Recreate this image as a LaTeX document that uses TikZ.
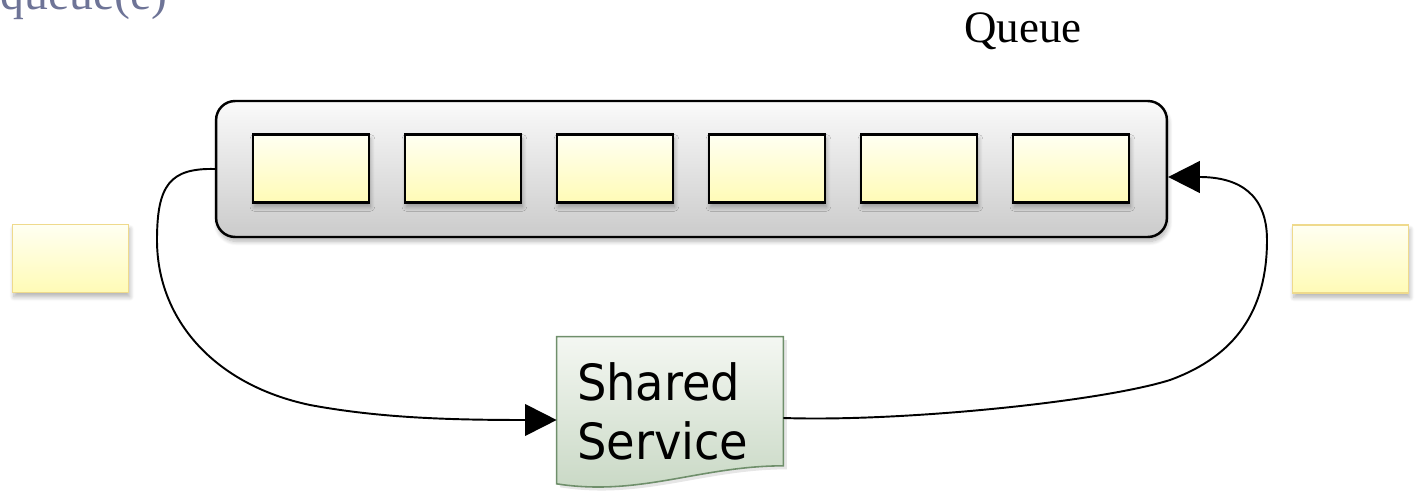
\documentclass[tikz,border=0pt]{standalone}
\usepackage{fontspec}
\setmainfont{Liberation Serif}
\newfontfamily\svcfont[FakeStretch=0.93]{DejaVu Sans}
\usetikzlibrary{arrows.meta,shadows,shadows.blur,calc,backgrounds}

\definecolor{enqgray}{HTML}{6E7497}
\definecolor{trayTop}{HTML}{FAFAFA}
\definecolor{trayBot}{HTML}{CBCBCB}
\definecolor{itemTop}{HTML}{FFFFF2}
\definecolor{itemBot}{HTML}{FFFBB6}
\definecolor{itemEdge}{HTML}{EFDA8C}
\definecolor{svcTop}{HTML}{F4F7F2}
\definecolor{svcBot}{HTML}{C7D7C3}
\definecolor{svcEdge}{HTML}{6F8F6B}

\begin{document}
\begin{tikzpicture}[
  x=0.02cm, y=-0.02cm,
  softshadow/.style={blur shadow={shadow xshift=0.8pt, shadow yshift=-2.5pt,
      shadow blur radius=2.5pt, shadow blur steps=8, shadow opacity=30}},
  tray/.style={draw=black, line width=1.4pt, rounded corners=0.38cm,
      top color=trayTop, bottom color=trayBot, softshadow,
      minimum width=19.02cm, minimum height=2.72cm, inner sep=0pt},
  item/.style={draw=black, line width=1.4pt, top color=itemTop,
      bottom color=itemBot, softshadow,
      minimum width=2.32cm, minimum height=1.36cm, inner sep=0pt},
  looseitem/.style={item, draw=itemEdge, line width=1.1pt},
  svcbox/.style={minimum width=4.52cm, minimum height=2.9cm, inner sep=0pt,
      text width=3.72cm, align=left,
      font=\svcfont\fontsize{28.4pt}{33.5pt}\selectfont},
  conn/.style={draw=black, line width=1.1pt},
  tip/.style={-{Triangle[length=18pt,width=18pt]}},
]
\useasboundingbox (0,0) rectangle (1418,493);
\clip (0,0) rectangle (1418,493);

% caption lines
\node[anchor=base east, inner sep=0pt, text=enqgray,
      font=\fontsize{27.2pt}{32pt}\selectfont] (enq) at (168,10) {Enqueue(e)};
\node[anchor=base, inner sep=0pt,
      font=\fontsize{25.6pt}{30pt}\selectfont] (qlabel) at (1023,43) {Queue};

% the queue and its slots
\node[tray] (queue) at (691.5,169) {};
\foreach \k/\xc in {1/311, 2/463, 3/615, 4/767, 5/919, 6/1071}
  \node[item] (slot\k) at (\xc,168.5) {};

% items outside the queue
\node[looseitem] (outL) at (70.5,258.5) {};
\node[looseitem] (outR) at (1350.5,259) {};

% the shared service, a document shape with a wavy lower edge
\node[svcbox] (svc) at (670,411) {\hspace*{0pt}Shared\\Service};
\begin{scope}[on background layer]
  \path[draw=svcEdge, line width=0.9pt, top color=svcTop, bottom color=svcBot,
        drop shadow={shadow xshift=2pt, shadow yshift=-2pt, opacity=0.2}]
    ($(svc.north west)+(0,-1.5)$) -- ($(svc.north east)+(0,-1.5)$)
    -- ($(svc.south east)+(0,-18)$)
    .. controls ($(svc.south east)+(-83,-18)$) and ($(svc.south west)+(83,13)$)
    .. (svc.south west) -- cycle;
\end{scope}

\coordinate (svcin)  at ($(svc.west)+(0,9)$);
\coordinate (svcout) at ($(svc.east)+(0,7)$);
\coordinate (qin)    at ($(queue.east)+(0,8)$);

% dequeue: from the head of the queue to the service
\draw[conn, tip] (queue.west)
   .. controls (170,168) and (157,185) .. (157,240)
   .. controls (157,320) and (215,385) .. (310,405)
   .. controls (380,418) and (450,420) .. (svcin);

% enqueue: from the service back to the tail of the queue
\draw[conn, tip] (svcout)
   .. controls (900,422) and (1100,402) .. (1170,380)
   .. controls (1236,356) and (1267,310) .. (1267,240)
   .. controls (1267,195) and (1240,177) .. (qin);
\end{tikzpicture}
\end{document}
